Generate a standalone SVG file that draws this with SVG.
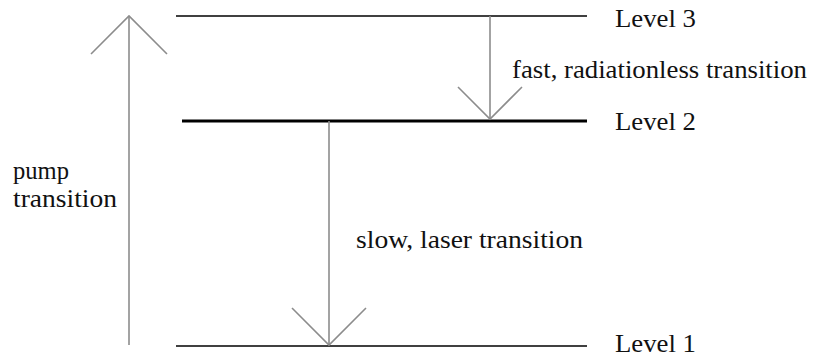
<svg xmlns="http://www.w3.org/2000/svg" width="817" height="358" viewBox="0 0 817 358">
<style>
.lvl{stroke:#000;stroke-width:1.6;fill:none}
.arr{stroke:#8c8c8c;stroke-width:1.6;fill:none}
.t{font-family:'Liberation Serif','DejaVu Serif','Times New Roman',serif;font-size:26px;fill:#111}
</style>
<rect width="817" height="358" fill="#fff"/>
<g id="level3"><line class="lvl" x1="176" y1="16" x2="587" y2="16"/><text class="t" x="615" y="27" textLength="81" lengthAdjust="spacingAndGlyphs">Level 3</text></g>
<g id="level2"><line class="lvl" x1="182" y1="121" x2="587" y2="121" style="stroke-width:3"/><text class="t" x="615" y="130" textLength="81" lengthAdjust="spacingAndGlyphs">Level 2</text></g>
<g id="level1"><line class="lvl" x1="176" y1="346" x2="587" y2="346"/><text class="t" x="615" y="352" textLength="81" lengthAdjust="spacingAndGlyphs">Level 1</text></g>
<g id="connectors">
<g id="pump"><line class="arr" x1="129" y1="345" x2="129" y2="16"/><polyline class="arr" points="91,54 129,16 167,54"/><text class="t" x="13" y="179" textLength="56" lengthAdjust="spacingAndGlyphs">pump</text><text class="t" x="13" y="207" textLength="104" lengthAdjust="spacingAndGlyphs">transition</text></g>
<g id="fast"><line class="arr" x1="490" y1="16" x2="490" y2="119"/><polyline class="arr" points="458,87 490,119 522,87"/><text class="t" x="512" y="78" textLength="295" lengthAdjust="spacingAndGlyphs">fast, radiationless transition</text></g>
<g id="laser"><line class="arr" x1="329" y1="121" x2="329" y2="345"/><polyline class="arr" points="292,308 329,345 366,308"/><text class="t" x="356" y="248" textLength="227" lengthAdjust="spacingAndGlyphs">slow, laser transition</text></g>
</g>
</svg>
